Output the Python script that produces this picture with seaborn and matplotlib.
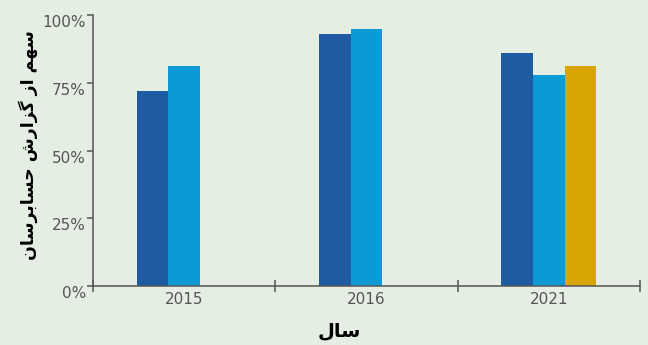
import matplotlib
matplotlib.use("Agg")
import matplotlib.pyplot as plt
import seaborn as sns
import pandas as pd
from matplotlib.ticker import FixedLocator, PercentFormatter

# Data
years = ["2015", "2015", "2016", "2016", "2021", "2021", "2021"]
series = ["A", "B", "A", "B", "A", "B", "C"]
shares = [72, 81, 93, 95, 86, 78, 81]
series_order = ["A", "B", "C"]
series_colors = ["#1f5ba3", "#0b9ad6", "#d9a502"]
y_ticks = [0, 25, 50, 75, 100]

y_title = "سهم از گزارش حسابرسان"
x_title = "سال"

# Minimal Arabic/Persian shaping: contextual forms + visual (RTL) order
FORMS = {
    "\u0627": ("\uFE8D", "\uFE8E", None, None),
    "\u0628": ("\uFE8F", "\uFE90", "\uFE91", "\uFE92"),
    "\u062D": ("\uFEA1", "\uFEA2", "\uFEA3", "\uFEA4"),
    "\u0631": ("\uFEAD", "\uFEAE", None, None),
    "\u0632": ("\uFEAF", "\uFEB0", None, None),
    "\u0633": ("\uFEB1", "\uFEB2", "\uFEB3", "\uFEB4"),
    "\u0634": ("\uFEB5", "\uFEB6", "\uFEB7", "\uFEB8"),
    "\u0644": ("\uFEDD", "\uFEDE", "\uFEDF", "\uFEE0"),
    "\u0645": ("\uFEE1", "\uFEE2", "\uFEE3", "\uFEE4"),
    "\u0646": ("\uFEE5", "\uFEE6", "\uFEE7", "\uFEE8"),
    "\u0647": ("\uFEE9", "\uFEEA", "\uFEEB", "\uFEEC"),
    "\u06AF": ("\uFB92", "\uFB93", "\uFB94", "\uFB95"),
}


def shape_rtl(text):
    out = []
    n = len(text)
    for i, ch in enumerate(text):
        if ch not in FORMS:
            out.append(ch)
            continue
        prev = text[i - 1] if i > 0 else None
        nxt = text[i + 1] if i < n - 1 else None
        joins_prev = prev in FORMS and FORMS[prev][2] is not None
        joins_next = FORMS[ch][2] is not None and nxt in FORMS
        iso, fin, ini, med = FORMS[ch]
        if joins_prev and joins_next:
            out.append(med)
        elif joins_prev:
            out.append(fin)
        elif joins_next:
            out.append(ini)
        else:
            out.append(iso)
    return "".join(reversed(out))


df = pd.DataFrame({"year": years, "series": series, "share": shares})

sns.set_theme(style="ticks")
bg = "#e4eee2"
plt.rcParams["font.family"] = ["DejaVu Sans"]

fig = plt.figure(figsize=(6.48, 3.45), dpi=100, facecolor=bg)
ax = fig.add_axes([0.1435, 0.171, 0.844, 0.7855])
ax.set_facecolor(bg)

sns.barplot(
    data=df, x="year", y="share", hue="series", hue_order=series_order,
    palette=series_colors, width=0.52, saturation=1, legend=False, ax=ax,
    linewidth=0,
)

ax.set_xlim(-0.5, 2.5)
ax.set_ylim(0, 100)
ax.set_yticks(y_ticks)
ax.yaxis.set_major_formatter(PercentFormatter(decimals=0))

# Category separators as crossing minor ticks
ax.xaxis.set_minor_locator(FixedLocator([-0.5, 0.5, 1.5, 2.5]))
ax.tick_params(axis="x", which="major", length=0, pad=4, labelsize=11,
               labelcolor="#555555")
ax.tick_params(axis="x", which="minor", direction="inout", length=9,
               width=1.1, color="#555555")
ax.tick_params(axis="y", which="major", direction="out", length=4,
               width=1.1, color="#555555", labelsize=11, labelcolor="#555555",
               pad=1)
for lbl in ax.get_yticklabels():
    lbl.set_verticalalignment("top")

for side in ("top", "right"):
    ax.spines[side].set_visible(False)
for side in ("left", "bottom"):
    ax.spines[side].set_color("#555555")
    ax.spines[side].set_linewidth(1.1)

ax.set_xlabel(shape_rtl(x_title), fontsize=14, fontweight="bold",
              color="black", labelpad=4)
ax.xaxis.set_label_coords(0.45, -0.13)
ax.set_ylabel(shape_rtl(y_title), fontsize=12.5, fontweight="bold",
              color="black", labelpad=8)
ax.yaxis.set_label_coords(-0.10, 0.52)

fig.savefig("out.png", dpi=100, facecolor=bg)
